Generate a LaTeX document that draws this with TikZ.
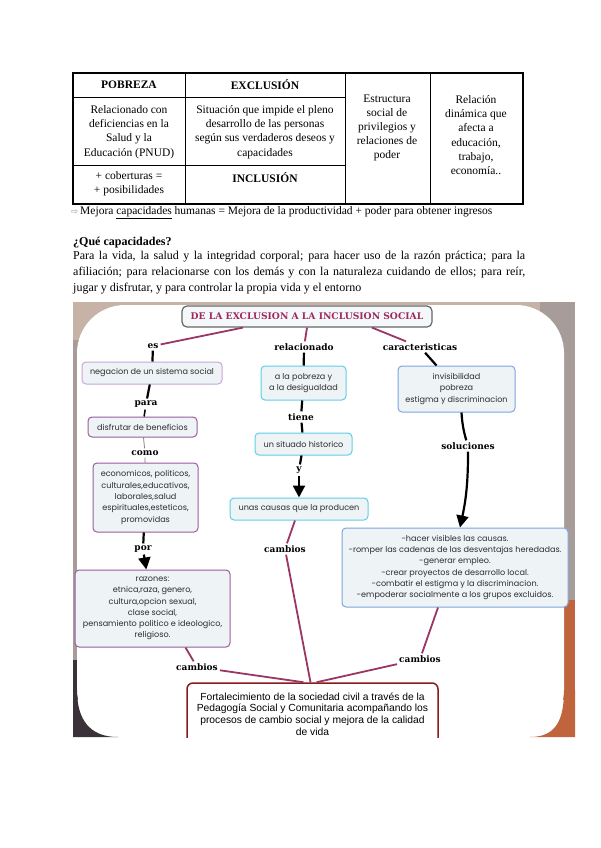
\documentclass[tikz,border=0pt]{standalone}
\usepackage{fontspec}
\setmainfont{Liberation Serif}
\newfontfamily\mapfont{Poppins}
\newfontfamily\labfont{DejaVu Serif}
\newfontfamily\botfont{Liberation Sans}
\newfontfamily\symfont{DejaVu Sans}
\usetikzlibrary{arrows.meta,calc}
\definecolor{magline}{HTML}{9A3566}
\definecolor{titlec}{HTML}{9E2A5C}
\definecolor{boxfill}{HTML}{EEF3F6}
\definecolor{purpA}{HTML}{C9A6D9}
\definecolor{purpB}{HTML}{9A5C9E}
\definecolor{cyanb}{HTML}{5FCFE6}
\definecolor{blueb}{HTML}{7FA6DF}
\definecolor{botb}{HTML}{8B1A1A}
\definecolor{maptext}{HTML}{2E2E2E}
\definecolor{photoA}{HTML}{C6B2A6}
\definecolor{photoB}{HTML}{A89C98}
\definecolor{photoC}{HTML}{3A3238}
\definecolor{photoD}{HTML}{C0643E}
\tikzset{
  cell/.style={align=center, inner sep=0pt, font=\fontsize{11.5}{14.2}\selectfont},
  mbox/.style={draw, rounded corners=4pt, fill=boxfill, line width=1pt, align=center, inner sep=1pt, text=maptext, font=\mapfont\fontsize{8.1}{11.3}\selectfont},
  lab/.style={font=\labfont\bfseries\fontsize{9}{10}\selectfont, inner sep=2pt},
  magl/.style={draw=magline, line width=1.8pt},
  blkl/.style={draw=black, line width=2.2pt},
  thinl/.style={draw=gray, line width=0.8pt},
  blka/.style={draw=black, line width=2.2pt, -{Triangle[width=12pt,length=12pt]}},
}
\begin{document}
\begin{tikzpicture}[x=1pt,y=-1pt]
\useasboundingbox (0,0) rectangle (600,848);
\fill[white] (0,0) rectangle (600,848);
% ---------- table ----------
\draw[line width=1.3pt] (73,73) rectangle (523,204);
\draw[line width=0.8pt] (185,73) -- (185,204) (345,73) -- (345,204) (430,73) -- (430,204)
  (73,97) -- (345,97) (73,165) -- (345,165);
\node[cell] (c11) at (129,85) {\textbf{POBREZA}};
\node[cell] (c12) at (265,85) {\textbf{EXCLUSIÓN}};
\node[cell] (c21) at (129,132) {Relacionado con\\deficiencias en la\\Salud y la\\Educación (PNUD)};
\node[cell] (c22) at (265,132) {Situación que impide el pleno\\desarrollo de las personas\\según sus verdaderos deseos y\\capacidades};
\node[cell] (c31) at (129,184) {+ coberturas =\\+ posibilidades};
\node[cell] (c32) at (265,178) {\textbf{INCLUSIÓN}};
\node[cell] (c3) at (387,128) {Estructura\\social de\\privilegios y\\relaciones de\\poder};
\node[cell] (c4) at (476,135) {Relación\\dinámica que\\afecta a\\educación,\\trabajo,\\economía..};
\node[anchor=west, inner sep=0pt, font=\fontsize{11.5}{14}\selectfont] (mej) at (71,213)
  {{\symfont\color{gray!80}\fontsize{8.5}{9}\selectfont ⇨}\,Mejora \underline{capacidades} humanas = Mejora de la productividad + poder para obtener ingresos};
\node[anchor=west, inner sep=0pt, font=\bfseries\fontsize{12}{14}\selectfont] (qc) at (73,243) {¿Qué capacidades?};
\node[anchor=north west, inner sep=0pt, text width=452pt, align=justify, font=\fontsize{12}{16}\selectfont] (par) at (73,251)
  {Para la vida, la salud y la integridad corporal; para hacer uso de la razón práctica; para la\linebreak
   afiliación; para relacionarse con los demás y con la naturaleza cuidando de ellos; para reír,\linebreak
   jugar y disfrutar, y para controlar la propia vida y el entorno};
% ---------- concept map ----------
\begin{scope}
\clip (73,302) rectangle (575,737);
\fill[photoA] (73,302) rectangle (575,737);
\fill[photoB] (73,340) rectangle (90,690);
\fill[photoB] (540,302) rectangle (575,600);
\fill[photoC] (73,660) rectangle (140,737);
\fill[photoD] (540,600) rectangle (575,737);
\fill[white, rounded corners=48pt] (77,305) rectangle (564,738);
\fill[white] (77,700) rectangle (564,737);
\fill[photoC, rounded corners=0pt] (73,690) -- (73,737) -- (118,737) .. controls (90,737) and (77,720) .. (77,690) -- cycle;
\fill[photoD] (575,690) -- (575,737) -- (530,737) .. controls (556,737) and (564,720) .. (564,690) -- cycle;

\node[draw=gray!80!black, fill=boxfill!60!white, line width=1.2pt, rounded corners=5pt,
  minimum width=250pt, minimum height=21pt, inner sep=0pt, text=titlec,
  font=\labfont\bfseries\fontsize{9.2}{10}\selectfont] (title) at (307,316.5) {DE LA EXCLUSION A LA INCLUSION SOCIAL};

\node[lab] (lab_es) at (153,346) {es};
\node[lab] (lab_rel) at (304,347) {relacionado};
\node[lab] (lab_car) at (420,347) {caracteristicas};

% left column
\node[mbox, draw=purpA, minimum width=140pt, minimum height=22pt] (neg) at (152,373) {negacion de un sistema social};
\node[lab] (lab_para) at (146,404) {para};
\node[mbox, draw=purpB, minimum width=109pt, minimum height=20pt] (dis) at (142.5,427) {disfrutar de beneficios};
\node[lab] (lab_como) at (145,453) {como};
\node[mbox, draw=purpB, minimum width=105pt, minimum height=69pt] (eco) at (145.5,497.5)
  {economicos, politicos,\\culturales,educativos,\\laborales,salud\\espirituales,esteticos,\\promovidas};
\node[lab] (lab_por) at (143,549) {por};
\node[mbox, draw=purpB, minimum width=155pt, minimum height=77pt] (raz) at (152.5,608.5)
  {razones:\\etnica,raza, genero,\\cultura,opcion sexual,\\clase social,\\pensamiento politico e ideologico,\\religioso.};
\node[lab] (lab_c1) at (197,667) {cambios};

% middle column
\node[mbox, draw=cyanb, minimum width=85pt, minimum height=34pt] (relb) at (303.5,383) {a la pobreza y\\a la desigualdad};
\node[lab] (lab_tiene) at (301,417) {tiene};
\node[mbox, draw=cyanb, minimum width=97pt, minimum height=22pt] (sit) at (303.5,444) {un situado historico};
\node[lab] (lab_y) at (299,470) {y};
\node[mbox, draw=cyanb, minimum width=138pt, minimum height=22pt] (cau) at (299,509) {unas causas que la producen};
\node[lab] (lab_c2) at (285,549) {cambios};

% right column
\node[mbox, draw=blueb, minimum width=117pt, minimum height=46pt] (inv) at (456.5,389) {invisibilidad\\pobreza\\estigma y discriminacion};
\node[lab] (lab_sol) at (468,446) {soluciones};
\node[mbox, draw=blueb, minimum width=226pt, minimum height=79pt] (sol) at (455,567.5)
  {-hacer visibles las causas.\\-romper las cadenas de las desventajas heredadas.\\-generar empleo.\\-crear proyectos de desarrollo local.\\-combatir el estigma y la discriminacion.\\-empoderar socialmente a los grupos excluidos.};
\node[lab] (lab_c3) at (420,659) {cambios};

% bottom
\node[draw=botb, line width=1.5pt, rounded corners=6pt, fill=white, minimum width=251pt, minimum height=62pt,
  align=center, inner sep=0pt, font=\botfont\fontsize{10.3}{11.7}\selectfont] (bot) at (312.5,714)
  {Fortalecimiento de la sociedad civil a través de la\\Pedagogía Social y Comunitaria acompañando los\\procesos de cambio social y mejora de la calidad\\de vida};

% connectors
\draw[magl] ($(title.south)+(-64,0)$) -- (lab_es);
\draw[magl] (title.south) -- (lab_rel);
\draw[magl] ($(title.south)+(65,0)$) -- (lab_car);

\draw[blkl] (lab_es) -- (neg);
\draw[blkl] (neg) -- (lab_para);
\draw[blkl, line width=1.5pt] (lab_para) -- (dis);
\draw[thinl] (dis) -- (lab_como);
\draw[thinl] (lab_como) -- (eco);
\draw[blkl] (eco) -- (lab_por);
\draw[blka] (lab_por) -- (raz);

\draw[blkl] (lab_rel) -- (relb);
\draw[blkl] (relb) -- (lab_tiene);
\draw[blkl] (lab_tiene) -- (sit);
\draw[blkl] (sit) -- (lab_y);
\draw[blka] (lab_y) -- (cau);

\draw[blkl] (lab_car) -- ($(inv.north)+(-20,0)$);
\draw[blkl] ($(inv.south)+(5,0)$) to[bend right=6] (lab_sol);
\draw[blka] (lab_sol) to[bend left=6] ($(sol.north)+(5,0)$);

\draw[magl] ($(raz.south)+(33,0)$) -- (lab_c1);
\draw[magl] (lab_c1) -- ($(bot.north)+(-9,0)$);
\draw[magl] (cau) -- (lab_c2);
\draw[magl] (lab_c2) -- ($(bot.north)+(-2,0)$);
\draw[magl] ($(sol.south)+(-17,0)$) -- (lab_c3);
\draw[magl] (lab_c3) -- ($(bot.north)+(4,0)$);
\end{scope}
\end{tikzpicture}
\end{document}
